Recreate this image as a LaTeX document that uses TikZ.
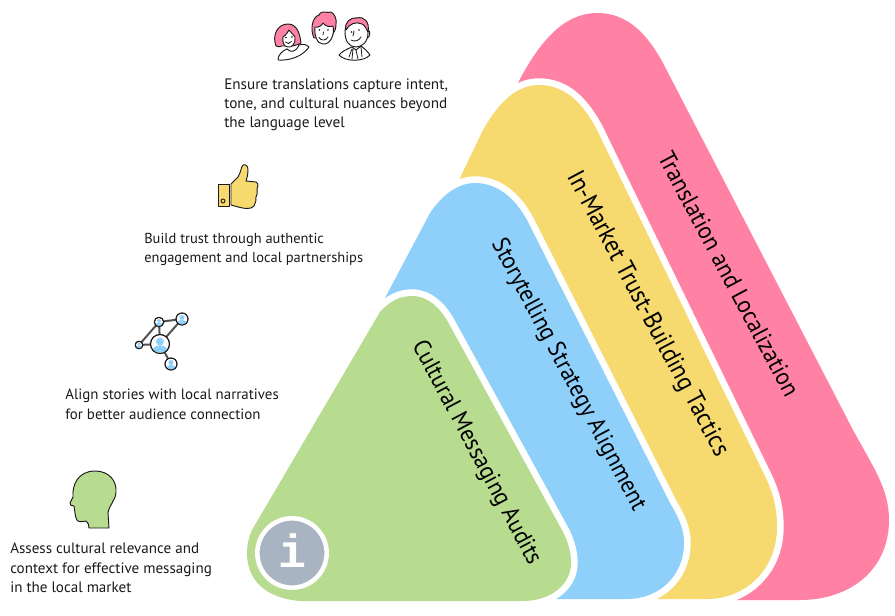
\documentclass[tikz,border=0pt]{standalone}
\usepackage{fontspec}
\setmainfont{PT Sans}
\newfontfamily\tierfont[FakeStretch=0.93]{PT Sans}
\newfontfamily\infofont{Liberation Mono Bold}
\definecolor{cpink}{HTML}{FF82A5}
\definecolor{cyellow}{HTML}{F6DA70}
\definecolor{cblue}{HTML}{8FD0FB}
\definecolor{cgreen}{HTML}{B7DB8F}
\definecolor{cgrey}{HTML}{A9B4C2}
\definecolor{cink}{HTML}{1A1A1A}
\tikzset{
 halo/.style={draw=white,line width=10pt,line join=round},
 tier/.style={text=black,rotate=-62,inner sep=0pt},
 note/.style={font=\fontsize{#1}{14.6}\selectfont,align=left,anchor=north west,inner sep=0pt,text=cink},
 ico/.style={draw=cink,line width=0.7pt,line join=round,line cap=round},
 face/.style={draw=cink,line width=0.6pt,line cap=round},
}
\begin{document}
\begin{tikzpicture}[x=0.75pt,y=-0.75pt]
\useasboundingbox (0,0) rectangle (895,616);
% pink
\fill[cpink] (518,83) .. controls (540,40) and (565,13) .. (597,13) .. controls (625,13) and (645,30) .. (663,63) -- (853,430) .. controls (875,470) and (889,490) .. (889,520) .. controls (889,570) and (850,600) .. (800,600) -- (500,600) -- cycle;
% yellow
\def\ypath{(460,178) -- (483,130) .. controls (500,100) and (518,85) .. (539,85) .. controls (565,85) and (583,103) .. (597,130) -- (763,472) .. controls (772,490) and (777,505) .. (777,527) .. controls (777,570) and (745,599) .. (707,599) -- (440,599) -- cycle}
\path[halo] \ypath; \fill[cyellow] \ypath;
% blue
\def\bpath{(385,298) -- (430,213) .. controls (442,195) and (458,183) .. (475,183) .. controls (497,183) and (515,198) .. (527,220) -- (670,503) .. controls (680,520) and (684,530) .. (684,543) .. controls (684,575) and (660,599) .. (627,599) -- (360,599) -- cycle}
\path[halo] \bpath; \fill[cblue] \bpath;
% green
\def\gpath{(252,530) -- (380,312) .. controls (390,301) and (400,296) .. (412,296) .. controls (428,296) and (440,308) .. (448,322) -- (563,532) .. controls (568,542) and (571,552) .. (571,563) .. controls (571,585) and (550,601) .. (523,601) -- (300,601) .. controls (265,598) and (247,580) .. (247,553) .. controls (247,545) and (249,536) .. (252,530) -- cycle}
\path[halo] \gpath; \fill[cgreen] \gpath;
% info
\node[circle,fill=cgrey,draw=white,line width=3.4pt,minimum size=52pt,inner sep=0pt] (info) at (292,553) {};
\node[font=\infofont\fontsize{35}{35}\selectfont,text=white,inner sep=0pt] (infoi) at (292,551) {i};
% tier labels
\node[tier,font=\tierfont\fontsize{18.4}{20}\selectfont] (t1) at (729,274) {Translation and Localization};
\node[tier,font=\tierfont\fontsize{19}{20}\selectfont] (t2) at (647,314) {In-Market Trust-Building Tactics};
\node[tier,font=\tierfont\fontsize{18.2}{20}\selectfont] (t3) at (568,375) {Storytelling Strategy Alignment};
\node[tier,font=\tierfont\fontsize{18.1}{20}\selectfont] (t4) at (476,453) {Cultural Messaging Audits};
% notes
\node[note=11.4] (n1) at (224,78) {Ensure translations capture intent,\\tone, and cultural nuances beyond\\the language level};
\node[note=10.85] (n2) at (144,233) {Build trust through authentic\\engagement and local partnerships};
\node[note=11.2] (n3) at (65,389) {Align stories with local narratives\\for better audience connection};
\node[note=11.3] (n4) at (10,543) {Assess cultural relevance and\\context for effective messaging\\in the local market};
% head
\draw[ico,fill=cgreen] (89,528) .. controls (89,525) and (88,522) .. (86,521) .. controls (82,522) and (78,522) .. (77,520) .. controls (75,518) and (76,516) .. (75,513) .. controls (74,511) and (75,508) .. (74,506) .. controls (72,506) and (69,505) .. (70,503) -- (73,497) .. controls (72,485) and (78,471) .. (95,471) .. controls (109,471) and (117,481) .. (116,492) .. controls (116,500) and (109,505) .. (108,513) -- (109,528) -- cycle;
% thumb
\draw[ico,fill=cyellow] (218,184) rectangle (229,206);
\draw[ico] (223,201) circle[radius=2];
\draw[ico,fill=cyellow] (231,184) -- (238,177) .. controls (241,172) and (241,167) .. (243,165) .. controls (246,164) and (248,166) .. (248,170) .. controls (248,174) and (247,178) .. (246,181) -- (256,182) .. controls (259,184) and (258,187) .. (257,189) .. controls (258,192) and (257,195) .. (256,197) .. controls (256,200) and (256,203) .. (254,206) .. controls (250,210) and (245,209) .. (231,205) -- cycle;
% network
\coordinate (ca) at (160,344); \coordinate (cb) at (159,322); \coordinate (cc) at (182,319); \coordinate (cd) at (139,345); \coordinate (ce) at (171,364);
\draw[draw=cink!75,line width=1.5pt] (cb)--(cc)--(ca)--(cd)--(cb)--(ca)--(ce);
\foreach \p/\r in {ca/9.5,cb/4.7,cc/6,cd/3.8,ce/6}{
 \draw[ico,fill=white] (\p) circle[radius=\r];
 \begin{scope}
 \clip (\p) circle[radius=\r];
 \begin{scope}[shift={(\p)},x=\r*0.75pt,y=-\r*0.75pt]
 \fill[cblue] (0,-0.25) circle[radius=0.42];
 \fill[cblue] (-0.85,1) .. controls (-0.85,0.3) and (-0.35,0.15) .. (0,0.15) .. controls (0.35,0.15) and (0.85,0.3) .. (0.85,1) -- cycle;
 \end{scope}
 \end{scope}
 \draw[ico] (\p) circle[radius=\r];
}
% woman
\draw[ico,fill=cpink] (276,46) .. controls (272,36) and (277,24) .. (288,24) .. controls (297,24) and (300,34) .. (301,43) .. controls (298,45) and (296,45) .. (293,46) -- (282,46) .. controls (280,47) and (278,47) .. (276,46) -- cycle;
\draw[ico,fill=white] (283,37) .. controls (286,35) and (288,32) .. (289,30) .. controls (291,33) and (294,35) .. (295,37) .. controls (296,43) and (292,48) .. (288,47) .. controls (284,47) and (282,42) .. (283,37) -- cycle;
\fill[cink] (286,37.5) circle[radius=0.8] (292,37) circle[radius=0.8];
\draw[face] (285.5,42) .. controls (287,44) and (290,44) .. (291.5,41.5);
\draw[ico,fill=white] (287,49) .. controls (282,51) and (278,55) .. (278,60) .. controls (290,61) and (303,56) .. (309,47) .. controls (306,44) and (303,44) .. (299,45);
\draw[ico] (287,49) .. controls (291,53) and (296,52) .. (299,45);
% middle man
\draw[ico,fill=cpink] (314,38) .. controls (310,30) and (312,17) .. (319,15) .. controls (322,9) and (328,14) .. (331,12) .. controls (335,14) and (337,20) .. (336,24) .. controls (336,28) and (335,31) .. (333,34) -- (318,38) -- cycle;
\draw[ico,fill=white] (315,27) .. controls (319,28) and (322,25) .. (323,23) .. controls (326,27) and (330,27) .. (333,26) .. controls (335,35) and (330,45) .. (323,44) .. controls (317,44) and (314,35) .. (315,27) -- cycle;
\fill[cink] (319.5,30) circle[radius=0.9] (328,30) circle[radius=0.9];
\draw[face] (323.5,32) -- (323,35);
\draw[face] (319,37.5) .. controls (321,41) and (326,41) .. (328,37);
% right man
\draw[ico,fill=white] (368,30) .. controls (371,31) and (370,38) .. (367,38) -- cycle;
\draw[ico,fill=white] (345,32) .. controls (345,22) and (351,18) .. (357,18) .. controls (364,18) and (368,24) .. (368,33) .. controls (368,42) and (362,47) .. (356,47) .. controls (349,47) and (345,41) .. (345,32) -- cycle;
\draw[ico,fill=cpink] (346,30) .. controls (344,22) and (351,17) .. (357,18) .. controls (364,16) and (370,22) .. (368,32) .. controls (366,29) and (365,25) .. (362,24) .. controls (356,21) and (349,24) .. (346,30) -- cycle;
\fill[cink] (351.5,32) circle[radius=0.8] (359,30) circle[radius=0.8];
\draw[face] (354,31) -- (353,36);
\draw[face] (351,40) .. controls (354,42) and (359,41) .. (361,37);
\draw[ico,fill=white] (352,47) .. controls (347,49) and (341,52) .. (339,55) .. controls (345,62) and (364,62) .. (370,55) .. controls (368,52) and (364,48) .. (361,46) -- (356,50) -- cycle;
\draw[face] (353,49) -- (352,59) (356,50) -- (358,59) (352,49) -- (349,57) (361,47) -- (362,57);
\end{tikzpicture}
\end{document}
